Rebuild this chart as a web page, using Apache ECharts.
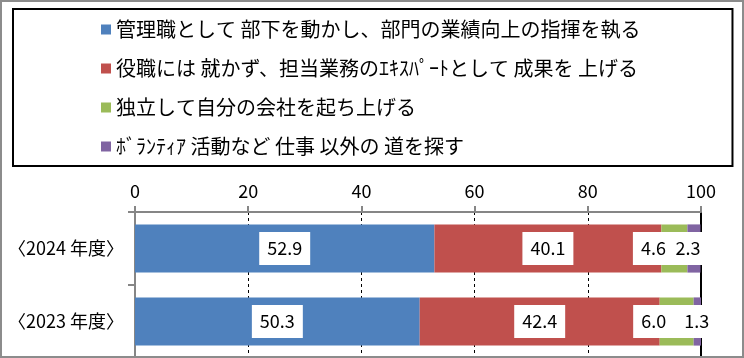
<!DOCTYPE html>
<html><head><meta charset="utf-8">
<script src="https://cdn.jsdelivr.net/npm/echarts@6/dist/echarts.min.js"></script>
<style>
html,body{margin:0;padding:0;background:#fff;}
#wrap{position:relative;width:744px;height:358px;}
#chart{width:744px;height:358px;}
#frame{position:absolute;left:0;top:0;width:744px;height:358px;box-sizing:border-box;border:2px solid #8c8c8c;pointer-events:none;}
</style></head>
<body>
<div id="wrap"><div id="chart"></div><div id="frame"></div></div>
<script>
// ---- data ----
const categories = ['〈2024 年度〉', '〈2023 年度〉'];
const seriesNames = [
  '管理職として 部下を動かし、部門の業績向上の指揮を執る',
  '役職には 就かず、担当業務のｴｷｽﾊﾟｰﾄとして 成果を 上げる',
  '独立して自分の会社を起ち上げる',
  'ﾎﾞﾗﾝﾃｨｱ 活動など 仕事 以外の 道を探す'
];
const manager = [52.9, 50.3];
const expert = [40.1, 42.4];
const independent = [4.6, 6.0];
const volunteer = [2.3, 1.3];
const xTicks = [0, 20, 40, 60, 80, 100];

// ---- styles ----
const colors = ['#4F81BD', '#C0504D', '#9BBB59', '#8064A2'];
const FONT = '"Noto Sans CJK JP", "Noto Sans", sans-serif';
const labelOffsets = [
  [[0,0],[0,0]],
  [[0,0],[0,0]],
  [[-21,0],[-23,0]],
  [[-6,0],[-4.5,0]]
];
const labelPaddings = [
  [null, null],
  [null, null],
  [null, null],
  [null, [8, 8, 7, 16]]
];
const values = [manager, expert, independent, volunteer];

const chart = echarts.init(document.getElementById('chart'), null, {renderer:'canvas'});

const series = values.map((arr, si) => ({
  name: seriesNames[si],
  type: 'bar',
  stack: 'total',
  barWidth: '66%',
  itemStyle: {color: colors[si]},
  label: {
    show: true,
    position: 'inside',
    color: '#000',
    fontFamily: FONT,
    fontSize: 18,
    backgroundColor: '#fff',
    padding: [8, 8, 7, 8],
    formatter: p => p.value.toFixed(1)
  },
  data: arr.map((v, i) => {
    const lbl = {offset: labelOffsets[si][i]};
    if (labelPaddings[si][i]) lbl.padding = labelPaddings[si][i];
    return {value: v, label: lbl};
  })
}));

chart.setOption({
  animation: false,
  color: colors,
  legend: {
    orient: 'vertical',
    left: 13,
    top: 9,
    padding: [1, 92, 0, 88],
    borderColor: '#000',
    borderWidth: 2,
    itemGap: 0,
    itemWidth: 10,
    itemHeight: 10,
    icon: 'rect',
    data: seriesNames,
    textStyle: {fontFamily: FONT, fontSize: 20, color: '#000', lineHeight: 39}
  },
  grid: {left: 135, right: 43, top: 212, bottom: 0},
  xAxis: {
    type: 'value',
    position: 'top',
    min: xTicks[0],
    max: xTicks[xTicks.length - 1],
    interval: xTicks[1] - xTicks[0],
    axisLine: {show: true, lineStyle: {color: '#868686', width: 2}},
    axisTick: {show: true, inside: false, length: 6, lineStyle: {color: '#868686', width: 2}},
    axisLabel: {color: '#000', fontFamily: FONT, fontSize: 18, margin: 12},
    splitLine: {show: true, lineStyle: {color: '#000', width: 1, type: [3, 3]}}
  },
  yAxis: [{
    type: 'category',
    data: categories,
    inverse: true,
    axisLine: {show: true, lineStyle: {color: '#868686', width: 2}},
    axisTick: {show: true, length: 7, lineStyle: {color: '#868686', width: 2}},
    axisLabel: {color: '#000', fontFamily: FONT, fontSize: 18, margin: 11}
  }, {
    type: 'category',
    data: categories,
    inverse: true,
    position: 'right',
    axisLine: {show: true, lineStyle: {color: '#000', width: 2}},
    axisTick: {show: false},
    axisLabel: {show: false}
  }],
  series: series
});
</script>
</body></html>
